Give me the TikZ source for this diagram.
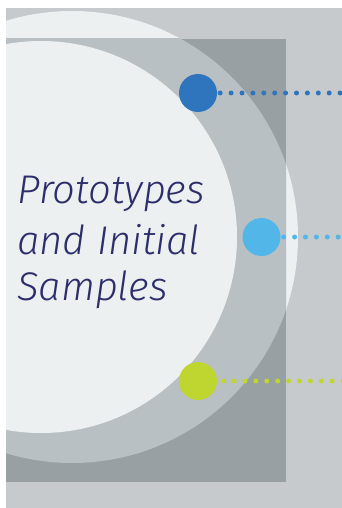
\documentclass[tikz,border=0pt]{standalone}
\usepackage{fontspec}
\newfontfamily\titlefont{Fira Sans}[UprightFont=* Light, ItalicFont=* Light Italic]
\definecolor{bgc}{HTML}{C6CACD}
\definecolor{rectc}{HTML}{98A0A3}
\definecolor{ringc}{HTML}{B9C0C3}
\definecolor{lightc}{HTML}{EDF0F1}
\definecolor{navy}{HTML}{2B2E6A}
\definecolor{dblue}{HTML}{2E75BE}
\definecolor{lblue}{HTML}{52B6E8}
\definecolor{lime}{HTML}{BFD630}
\tikzset{
  bigdot/.style={circle, minimum size=38pt, inner sep=0pt, draw=none},
  dotline/.style={line width=5pt, line cap=round, dash pattern=on 0pt off 10.9pt},
  titletext/.style={anchor=base west, inner sep=0pt, text=navy,
    font=\titlefont\itshape\fontsize{40}{50}\selectfont}
}
\begin{document}
\begin{tikzpicture}[x=1pt,y=-1pt]
\useasboundingbox (0,0) rectangle (342,508);
\begin{scope}
  \clip (6,8) rectangle (342,508);
  \fill[bgc] (6,8) rectangle (342,508);
  \fill[lightc] (72,237) circle[radius=226pt];
  \fill[rectc] (6,39) rectangle (286,482);
  \begin{scope}
    \clip (6,39) rectangle (286,482);
    \fill[ringc] (72,237) circle[radius=226pt];
  \end{scope}
  \fill[lightc] (41,237) circle[radius=196pt];

  \node[bigdot, fill=dblue] (d1) at (198,93) {};
  \node[bigdot, fill=lblue] (d2) at (261.5,237) {};
  \node[bigdot, fill=lime] (d3) at (198,381) {};
  \coordinate (e1) at (346,93);
  \coordinate (e2) at (346,237);
  \coordinate (e3) at (346,381);
  \draw[dotline, dblue, shorten <=3pt] (d1.east) -- (e1);
  \draw[dotline, lblue, shorten <=3pt] (d2.east) -- (e2);
  \draw[dotline, lime, shorten <=6pt] (d3.east) -- (e3);
\end{scope}
\node[titletext] (t1) at (17,203) {Prototypes};
\node[titletext] (t2) at (17,254) {and Initial};
\node[titletext] (t3) at (17,300) {Samples};
\end{tikzpicture}
\end{document}
